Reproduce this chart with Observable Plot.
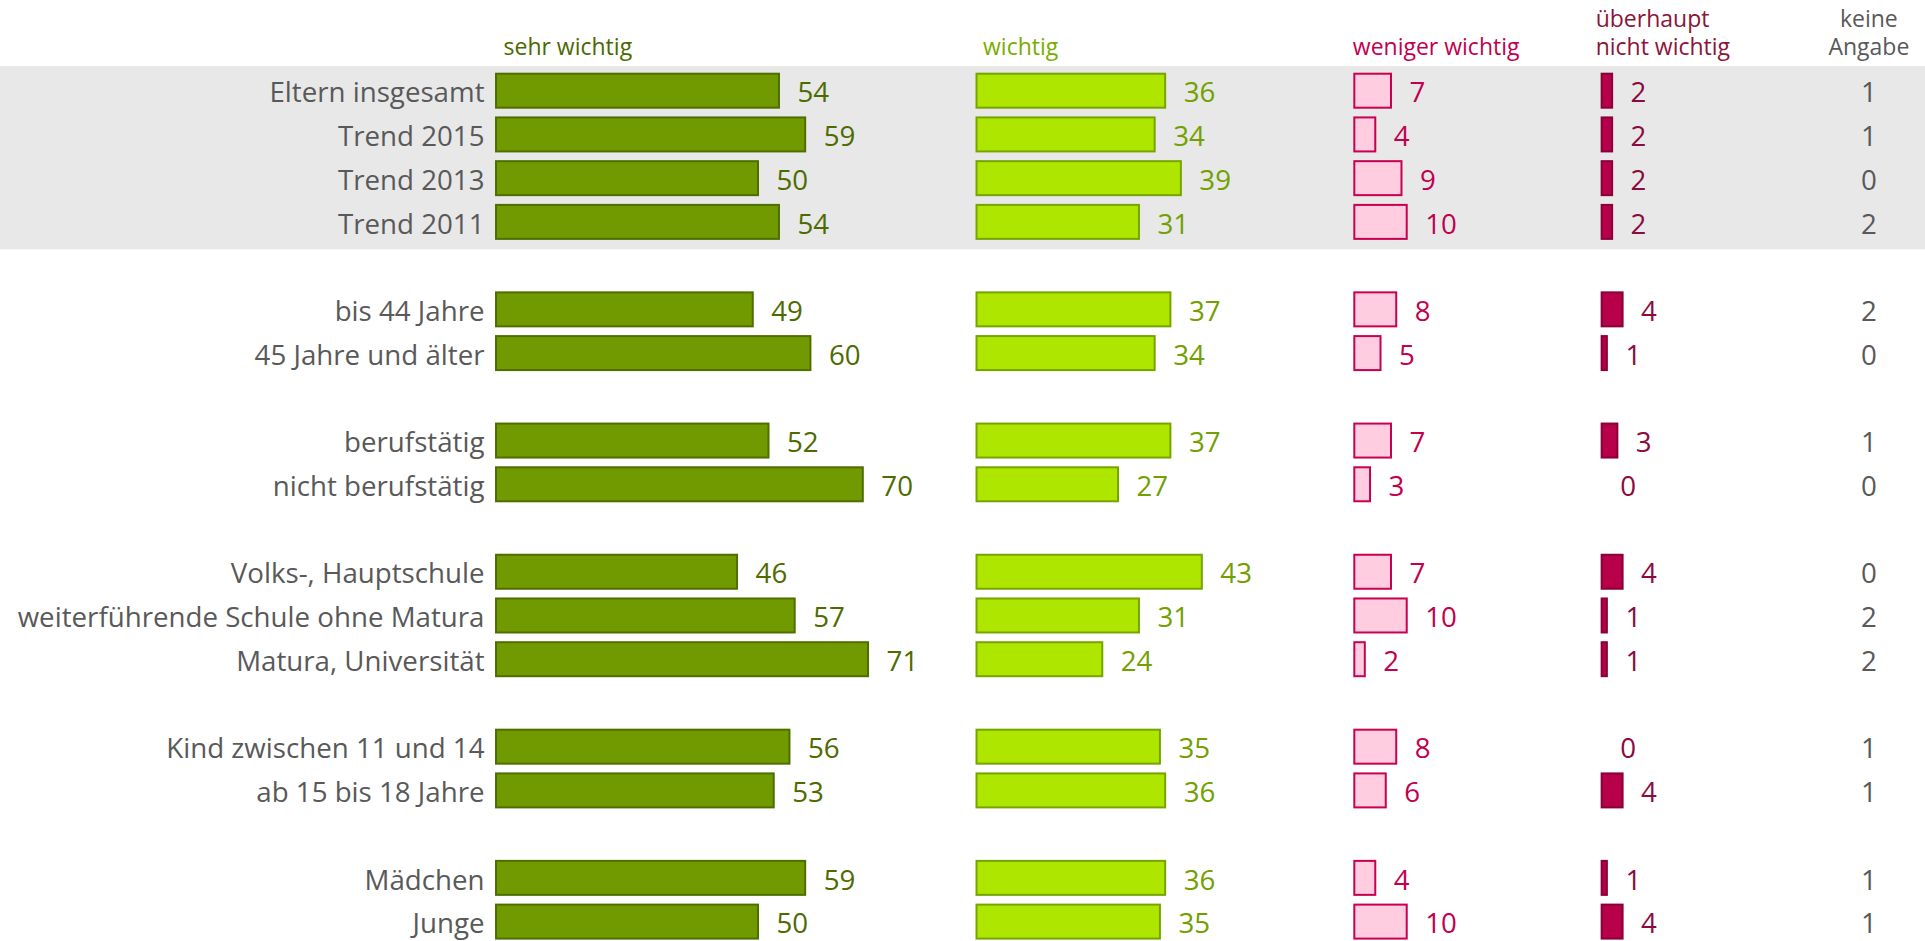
<!DOCTYPE html>
<html><head><meta charset="utf-8">
<script src="https://cdn.jsdelivr.net/npm/d3@7"></script>
<script src="https://cdn.jsdelivr.net/npm/@observablehq/plot@0.6"></script>
<style>html,body{margin:0;padding:0;background:#fff;overflow:hidden} svg{display:block}</style>
</head><body><div id="chart"></div>
<script>
// ---- data ----
const categories = ["Eltern insgesamt","Trend 2015","Trend 2013","Trend 2011",
  "bis 44 Jahre","45 Jahre und älter",
  "berufstätig","nicht berufstätig",
  "Volks-, Hauptschule","weiterführende Schule ohne Matura","Matura, Universität",
  "Kind zwischen 11 und 14","ab 15 bis 18 Jahre",
  "Mädchen","Junge"];
const groupSizes = [4,2,2,3,2,2];
const sehrWichtig    = [54,59,50,54,49,60,52,70,46,57,71,56,53,59,50];
const wichtig        = [36,34,39,31,37,34,37,27,43,31,24,35,36,36,35];
const wenigerWichtig = [7,4,9,10,8,5,7,3,7,10,2,8,6,4,10];
const ueberhauptNicht= [2,2,2,2,4,1,3,0,4,1,1,0,4,1,4];
const keineAngabe    = [1,1,0,2,2,0,1,0,0,2,2,1,1,1,1];
const columnLabels = ["sehr wichtig","wichtig","weniger wichtig","überhaupt\nnicht wichtig","keine\nAngabe"];

// ---- layout / style ----
const cols = [
  {key:"sehr", values: sehrWichtig, offset: 0, fill:"#709a00", stroke:"#4f6e00", text:"#4e6b00", head:"#4a6800", hdx: 7, anchor:"start"},
  {key:"wichtig", values: wichtig, offset: 91.7, fill:"#aee600", stroke:"#76a400", text:"#72a000", head:"#7aac00", hdx: 6, anchor:"start"},
  {key:"weniger", values: wenigerWichtig, offset: 163.8, fill:"#ffcce0", stroke:"#c8004f", text:"#c2004e", head:"#c2004e", hdx: -2, anchor:"start"},
  {key:"ueberhaupt", values: ueberhauptNicht, offset: 211.0, fill:"#b8004a", stroke:"#8a0038", text:"#8c0a3e", head:"#8a1538", hdx: -6.5, anchor:"start"},
  {key:"keine", values: keineAngabe, offset: 261.9, text:"#595959", head:"#595959", hdx: 0, anchor:"middle"}
];
const FONT = "'Open Sans', sans-serif";
const gray = "#595959";
const FS = 27.7, HFS = 23, TDY = 2.3;

const yDomain = [];
{ let k = 0;
  groupSizes.forEach((n, g) => { if (g > 0) yDomain.push("gap" + g); for (let i = 0; i < n; i++) yDomain.push(categories[k++]); });
}
const firstGroup = categories.slice(0, groupSizes[0]);

const marks = [];
marks.push(Plot.cell(firstGroup, {y: d => d, fill: "#e8e8e8", insetTop: -6.7, insetBottom: -9.4}));
marks.push(Plot.text(categories, {y: d => d, x: () => 0, text: d => d, textAnchor: "end", dx: -12, dy: TDY, fill: gray, fontSize: FS}));

cols.forEach((c, ci) => {
  const rows = categories.map((cat, i) => ({cat, value: c.values[i]}));
  if (c.key !== "keine") {
    marks.push(Plot.barX(rows.filter(d => d.value > 0), {
      y: "cat", x1: () => c.offset, x2: d => c.offset + d.value,
      fill: c.fill, stroke: c.stroke, strokeWidth: 2, insetTop: 1, insetBottom: 1
    }));
    marks.push(Plot.text(rows, {y: "cat", x: d => c.offset + d.value, text: d => String(d.value),
      dx: 18, dy: TDY, textAnchor: "start", fill: c.text, fontSize: FS}));
  } else {
    marks.push(Plot.text(rows, {y: "cat", x: () => c.offset, text: d => String(d.value),
      dy: TDY, textAnchor: "middle", fill: c.text, fontSize: FS}));
  }
  marks.push(Plot.text([columnLabels[ci]], {x: () => c.offset, text: d => d, frameAnchor: "top",
    lineAnchor: "bottom", lineHeight: 1.26, textAnchor: c.anchor, dx: c.hdx, dy: -17.7,
    fill: c.head, fontSize: HFS}));
});

const chart = Plot.plot({
  width: 1925, height: 941,
  marginLeft: 0, marginRight: 0, marginTop: 72.7, marginBottom: 1.4,
  style: {fontFamily: FONT, background: "#fff"},
  x: {domain: [-94.66, 272.71], axis: null},
  y: {domain: yDomain, paddingInner: 0.177, paddingOuter: 0, round: false, axis: null},
  marks
});
document.getElementById("chart").appendChild(chart);
</script>
</body></html>
